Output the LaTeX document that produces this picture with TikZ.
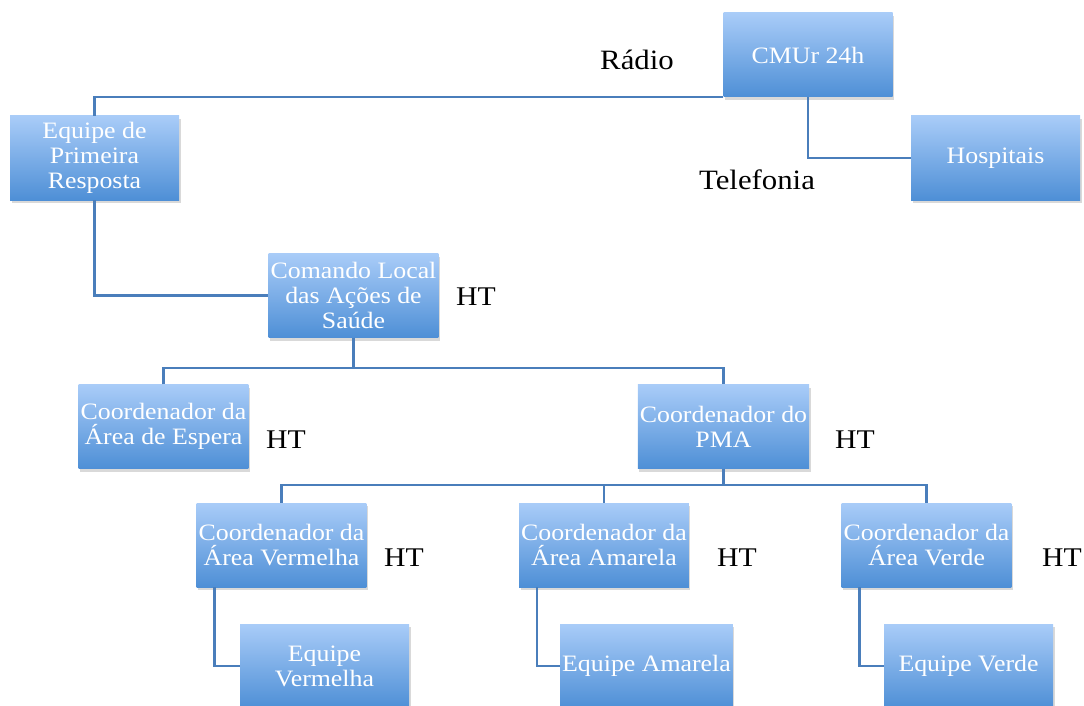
\documentclass[tikz,border=0pt]{standalone}
\usepackage{fontspec}
\setmainfont{Liberation Serif}
\newfontfamily\boxfont[FakeStretch=1.1]{Liberation Serif}
\newfontfamily\labfont[FakeStretch=1.1]{Liberation Serif}
\usetikzlibrary{shadows}
\definecolor{boxtop}{HTML}{A9CCF8}
\definecolor{boxbot}{HTML}{4E8FD6}
\definecolor{linkc}{HTML}{4A7EBB}
\tikzset{
  orgbox/.style={rectangle, minimum width=169pt, minimum height=84pt, inner sep=2pt,
    top color=boxtop, bottom color=boxbot, text=white, align=center,
    font=\boxfont\fontsize{23.5}{25}\selectfont,
    drop shadow={shadow xshift=1.5pt, shadow yshift=-3pt, opacity=0.25, fill=black!60}},
  link/.style={draw=linkc, line width=2.6pt},
  lab/.style={text=black, font=\labfont\fontsize{28}{30}\selectfont, inner sep=0pt},
  ht/.style={text=black, font=\labfont\fontsize{27}{29}\selectfont, inner sep=0pt}
}
\begin{document}
\begin{tikzpicture}[x=1pt, y=-1pt]
\useasboundingbox (0,0) rectangle (1084,706);
\coordinate (j1) at (353.5,368);
\coordinate (j2) at (723.5,485);
\node[orgbox] (cmur) at (808,55) {CMUr 24h};
\node[orgbox] (hosp) at (995.5,158) {Hospitais};
\node[orgbox] (epr) at (94.5,158) {Equipe de\\Primeira\\Resposta};
\node[orgbox] (clas) at (353.5,295.5) {Comando Local\\das Ações de\\Saúde};
\node[orgbox] (esp) at (163.5,426.5) {Coordenador da\\Área de Espera};
\node[orgbox] (pma) at (723.5,426.5) {Coordenador do\\PMA};
\node[orgbox] (cvm) at (281.5,545) {Coordenador da\\Área Vermelha};
\node[orgbox] (cam) at (604,545) {Coordenador da\\Área Amarela};
\node[orgbox] (cvd) at (926.5,545) {Coordenador da\\Área Verde};
\node[orgbox] (evm) at (324.5,666) {Equipe\\Vermelha};
\node[orgbox] (eam) at (646.5,666) {Equipe Amarela};
\node[orgbox] (evd) at (968.5,666) {Equipe Verde};

\node[lab] (radio) at (637,60) {Rádio};
\node[lab] (tel) at (757,180) {Telefonia};
\node[ht] (ht1) at (476,297) {HT};
\node[ht] (ht2) at (286,440) {HT};
\node[ht] (ht3) at (855,440) {HT};
\node[ht] (ht4) at (404,558) {HT};
\node[ht] (ht5) at (737,558) {HT};
\node[ht] (ht6) at (1062,558) {HT};

\draw[link] (cmur.south west) -| (epr.north);
\draw[link] (cmur.south) |- (hosp.west);
\draw[link] (epr.south) |- (clas.west);
\draw[link] (clas.south) -- (j1);
\draw[link] (esp.north) |- (j1) -| (pma.north);
\draw[link] (pma.south) -- (j2);
\draw[link] (cvm.north) |- (j2) -| (cvd.north);
\draw[link] (cam.north) -- (cam.north |- j2);
\draw[link] ([xshift=18pt]cvm.south west) |- (evm.west);
\draw[link] ([xshift=18pt]cam.south west) |- (eam.west);
\draw[link] ([xshift=18pt]cvd.south west) |- (evd.west);
\end{tikzpicture}
\end{document}
